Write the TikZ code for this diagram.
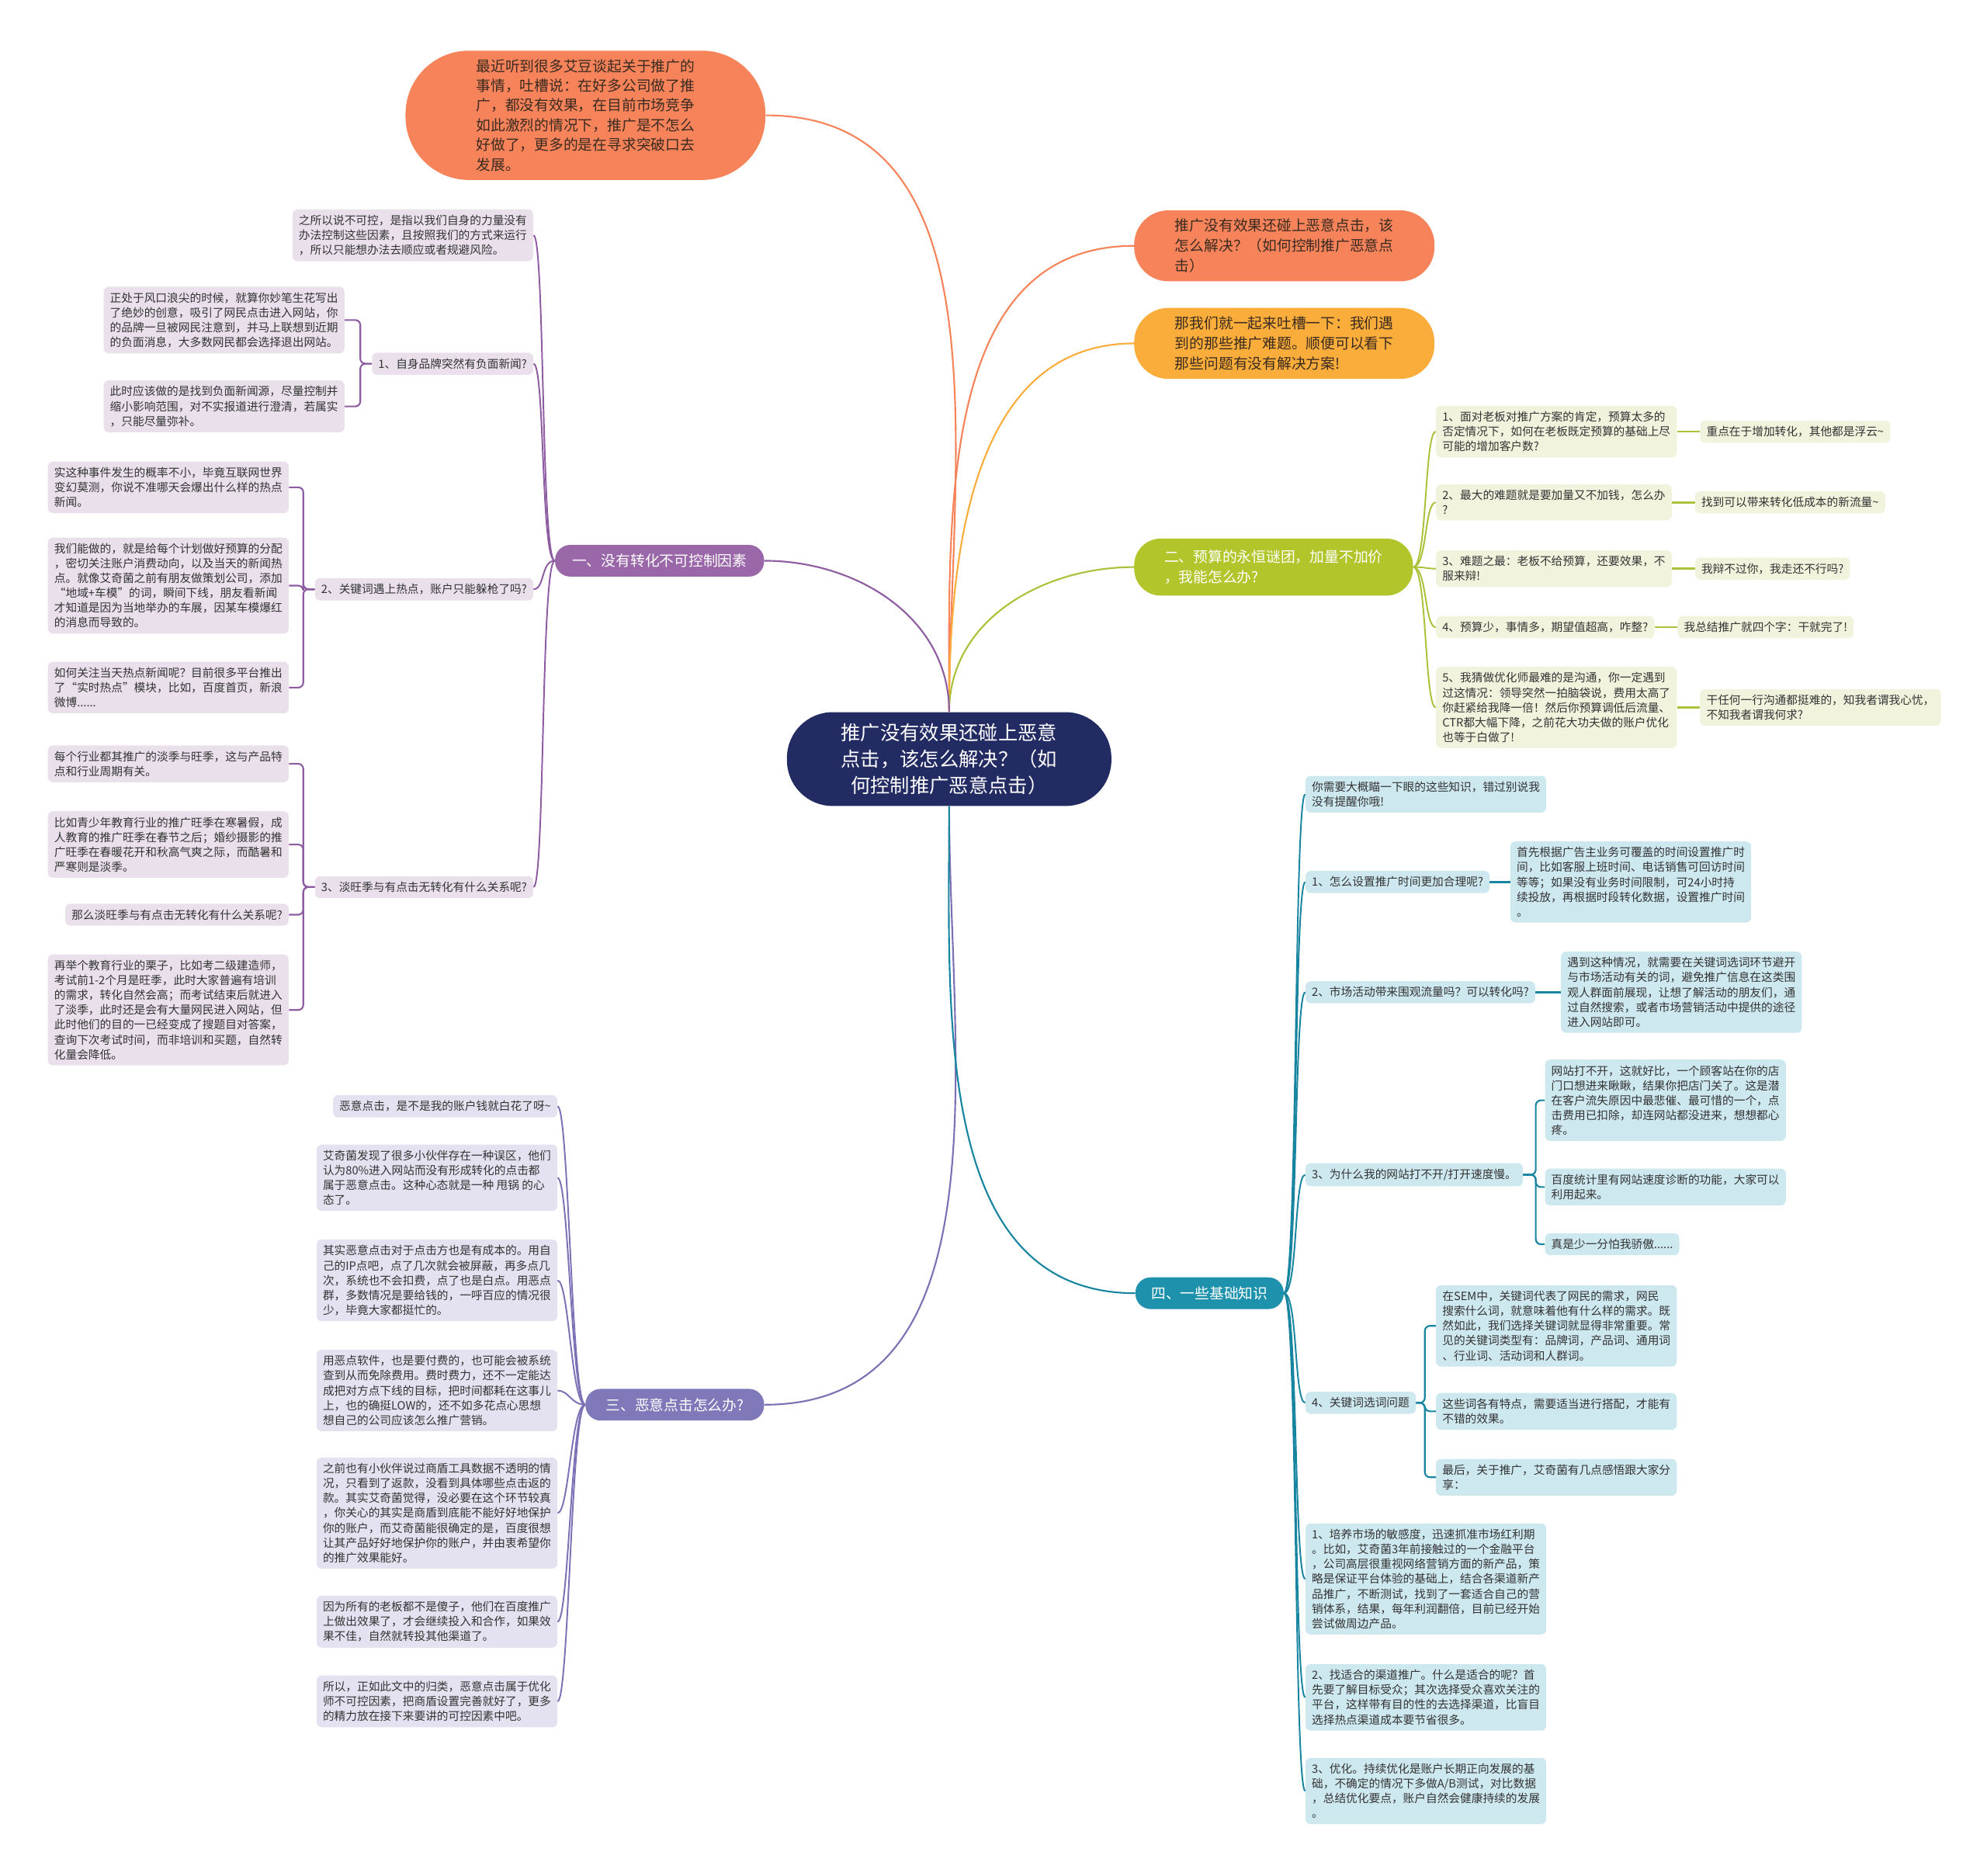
\documentclass[tikz,border=0pt]{standalone}
\usepackage{fontspec}
\setmainfont{Noto Sans CJK SC}
\usepackage{tikz}
\usetikzlibrary{positioning}
\definecolor{rootblue}{HTML}{232B63}
\definecolor{coral}{HTML}{F6835A}
\definecolor{amber}{HTML}{FAAD3A}
\definecolor{lime}{HTML}{B2C62C}
\definecolor{limeline}{HTML}{A9C23A}
\definecolor{limebg}{HTML}{F1F3DD}
\definecolor{plum}{HTML}{9A67A8}
\definecolor{plumline}{HTML}{8E5CA0}
\definecolor{plumbg}{HTML}{E9E0EC}
\definecolor{iris}{HTML}{7F79BA}
\definecolor{irisline}{HTML}{7A72B5}
\definecolor{irisbg}{HTML}{E4E2F0}
\definecolor{seablue}{HTML}{1E92AC}
\definecolor{sealine}{HTML}{17859F}
\definecolor{seabg}{HTML}{CEE8F0}
\definecolor{inktext}{HTML}{333333}
\definecolor{brownink}{HTML}{3A2A20}
\tikzset{
  rootnode/.style={rectangle, rounded corners=36pt, fill=rootblue, text=white, align=center, minimum width=256pt, minimum height=74pt, font=\fontsize{15.5}{21}\selectfont},
  introbox/.style={rectangle, rounded corners=50pt, fill=coral, text=brownink, align=left, minimum width=284pt, minimum height=102pt, font=\fontsize{11.5}{15.6}\selectfont},
  talkbox/.style={rectangle, rounded corners=27pt, text=brownink, align=left, minimum width=237pt, minimum height=56pt, font=\fontsize{11.5}{16}\selectfont},
  branch/.style={rectangle, rounded corners=12pt, text=white, align=left, minimum height=25pt, font=\fontsize{11.5}{16}\selectfont},
  topic/.style={rectangle, rounded corners=4pt, align=left, inner xsep=5pt, inner ysep=4.5pt, text=inktext, font=\fontsize{9}{11.7}\selectfont},
  mainline/.style={line width=1.3pt},
  spoke/.style={line width=1.2pt},
  twig/.style={line width=1.6pt},
  bracket/.style={line width=1.3pt, rounded corners=4pt},
  lspoke/.style={out=180, in=0, out distance=11pt, in distance=9pt},
  rspoke/.style={out=0, in=180, out distance=11pt, in distance=9pt},
}
\begin{document}
\begin{tikzpicture}[x=1pt, y=1pt]
\useasboundingbox (0,0) rectangle (1568,-1480);

\node[rootnode] (root) at (749,-599) {推广没有效果还碰上恶意\\点击，该怎么解决？（如\\何控制推广恶意点击）};
\node[introbox] (intro) at (462,-91) {最近听到很多艾豆谈起关于推广的\\事情，吐槽说：在好多公司做了推\\广，都没有效果，在目前市场竞争\\如此激烈的情况下，推广是不怎么\\好做了，更多的是在寻求突破口去\\发展。};
\node[talkbox, fill=coral] (puzzle) at (1013.5,-194) {推广没有效果还碰上恶意点击，该\\怎么解决？（如何控制推广恶意点\\击）};
\node[talkbox, fill=amber] (gripe) at (1013.5,-271) {那我们就一起来吐槽一下：我们遇\\到的那些推广难题。顺便可以看下\\那些问题有没有解决方案!};

\node[branch, fill=plum, minimum width=165pt] (uncontrol) at (520.5,-442.5) {一、没有转化不可控制因素};
\node[branch, fill=lime, minimum width=220pt, minimum height=45pt, rounded corners=21pt] (budget) at (1005,-447.5) {二、预算的永恒谜团，加量不加价\\，我能怎么办?};
\node[branch, fill=iris, minimum width=141pt] (fraud) at (532.5,-1108.5) {三、恶意点击怎么办?};
\node[branch, fill=seablue, minimum width=117pt] (basics) at (954.5,-1020.5) {四、一些基础知识};

\node[topic, fill=plumbg, anchor=north east] (why) at (421,-165) {之所以说不可控，是指以我们自身的力量没有\\办法控制这些因素，且按照我们的方式来运行\\，所以只能想办法去顺应或者规避风险。};
\node[topic, fill=plumbg, anchor=east] (brand) at (421,-287) {1、自身品牌突然有负面新闻?};
\node[topic, fill=plumbg, anchor=north east] (brand-a) at (272,-226) {正处于风口浪尖的时候，就算你妙笔生花写出\\了绝妙的创意，吸引了网民点击进入网站，你\\的品牌一旦被网民注意到，并马上联想到近期\\的负面消息，大多数网民都会选择退出网站。};
\node[topic, fill=plumbg, anchor=north east] (brand-b) at (272,-300) {此时应该做的是找到负面新闻源，尽量控制并\\缩小影响范围，对不实报道进行澄清，若属实\\，只能尽量弥补。};
\node[topic, fill=plumbg, anchor=east] (hot) at (421,-465) {2、关键词遇上热点，账户只能躲枪了吗?};
\node[topic, fill=plumbg, anchor=north east] (hot-a) at (228,-364) {实这种事件发生的概率不小，毕竟互联网世界\\变幻莫测，你说不准哪天会爆出什么样的热点\\新闻。};
\node[topic, fill=plumbg, anchor=north east] (hot-b) at (228,-424) {我们能做的，就是给每个计划做好预算的分配\\，密切关注账户消费动向，以及当天的新闻热\\点。就像艾奇菌之前有朋友做策划公司，添加\\“地域+车模”的词，瞬间下线，朋友看新闻\\才知道是因为当地举办的车展，因某车模爆红\\的消息而导致的。};
\node[topic, fill=plumbg, anchor=north east] (hot-c) at (228,-522) {如何关注当天热点新闻呢？目前很多平台推出\\了“实时热点”模块，比如，百度首页，新浪\\微博......};
\node[topic, fill=plumbg, anchor=east] (season) at (421,-700) {3、淡旺季与有点击无转化有什么关系呢?};
\node[topic, fill=plumbg, anchor=north east] (season-a) at (228,-588) {每个行业都其推广的淡季与旺季，这与产品特\\点和行业周期有关。};
\node[topic, fill=plumbg, anchor=north east] (season-b) at (228,-640) {比如青少年教育行业的推广旺季在寒暑假，成\\人教育的推广旺季在春节之后；婚纱摄影的推\\广旺季在春暖花开和秋高气爽之际，而酷暑和\\严寒则是淡季。};
\node[topic, fill=plumbg, anchor=north east] (season-c) at (228,-713) {那么淡旺季与有点击无转化有什么关系呢?};
\node[topic, fill=plumbg, anchor=north east] (season-d) at (228,-753) {再举个教育行业的栗子，比如考二级建造师，\\考试前1-2个月是旺季，此时大家普遍有培训\\的需求，转化自然会高；而考试结束后就进入\\了淡季，此时还是会有大量网民进入网站，但\\此时他们的目的一已经变成了搜题目对答案，\\查询下次考试时间，而非培训和买题，自然转\\化量会降低。};

\node[topic, fill=limebg, anchor=north west] (ask1) at (1133,-320) {1、面对老板对推广方案的肯定，预算太多的\\否定情况下，如何在老板既定预算的基础上尽\\可能的增加客户数?};
\node[topic, fill=limebg, right=18pt of ask1] (ans1) {重点在于增加转化，其他都是浮云\textasciitilde};
\node[topic, fill=limebg, anchor=north west] (ask2) at (1133,-382) {2、最大的难题就是要加量又不加钱，怎么办\\?};
\node[topic, fill=limebg, right=18pt of ask2] (ans2) {找到可以带来转化低成本的新流量\textasciitilde};
\node[topic, fill=limebg, anchor=north west] (ask3) at (1133,-434) {3、难题之最：老板不给预算，还要效果，不\\服来辩!};
\node[topic, fill=limebg, right=18pt of ask3] (ans3) {我辩不过你，我走还不行吗?};
\node[topic, fill=limebg, anchor=north west] (ask4) at (1133,-486) {4、预算少，事情多，期望值超高，咋整?};
\node[topic, fill=limebg, right=18pt of ask4] (ans4) {我总结推广就四个字：干就完了!};
\node[topic, fill=limebg, anchor=north west] (ask5) at (1133,-526) {5、我猜做优化师最难的是沟通，你一定遇到\\过这情况：领导突然一拍脑袋说，费用太高了\\你赶紧给我降一倍！然后你预算调低后流量、\\CTR都大幅下降，之前花大功夫做的账户优化\\也等于白做了!};
\node[topic, fill=limebg, right=18pt of ask5] (ans5) {干任何一行沟通都挺难的，知我者谓我心忧，\\不知我者谓我何求?};

\node[topic, fill=irisbg, anchor=north east] (fr1) at (440,-864) {恶意点击，是不是我的账户钱就白花了呀\textasciitilde};
\node[topic, fill=irisbg, anchor=north east] (fr2) at (440,-903) {艾奇菌发现了很多小伙伴存在一种误区，他们\\认为80\%进入网站而没有形成转化的点击都\\属于恶意点击。这种心态就是一种 甩锅 的心\\态了。};
\node[topic, fill=irisbg, anchor=north east] (fr3) at (440,-978) {其实恶意点击对于点击方也是有成本的。用自\\己的IP点吧，点了几次就会被屏蔽，再多点几\\次，系统也不会扣费，点了也是白点。用恶点\\群，多数情况是要给钱的，一呼百应的情况很\\少，毕竟大家都挺忙的。};
\node[topic, fill=irisbg, anchor=north east] (fr4) at (440,-1065) {用恶点软件，也是要付费的，也可能会被系统\\查到从而免除费用。费时费力，还不一定能达\\成把对方点下线的目标，把时间都耗在这事儿\\上，也的确挺LOW的，还不如多花点心思想\\想自己的公司应该怎么推广营销。};
\node[topic, fill=irisbg, anchor=north east] (fr5) at (440,-1150) {之前也有小伙伴说过商盾工具数据不透明的情\\况，只看到了返款，没看到具体哪些点击返的\\款。其实艾奇菌觉得，没必要在这个环节较真\\，你关心的其实是商盾到底能不能好好地保护\\你的账户，而艾奇菌能很确定的是，百度很想\\让其产品好好地保护你的账户，并由衷希望你\\的推广效果能好。};
\node[topic, fill=irisbg, anchor=north east] (fr6) at (440,-1259) {因为所有的老板都不是傻子，他们在百度推广\\上做出效果了，才会继续投入和合作，如果效\\果不佳，自然就转投其他渠道了。};
\node[topic, fill=irisbg, anchor=north east] (fr7) at (440,-1322) {所以，正如此文中的归类，恶意点击属于优化\\师不可控因素，把商盾设置完善就好了，更多\\的精力放在接下来要讲的可控因素中吧。};

\node[topic, fill=seabg, anchor=north west] (tip0) at (1030,-612) {你需要大概瞄一下眼的这些知识，错过别说我\\没有提醒你哦!};
\node[topic, fill=seabg, anchor=west] (tip1) at (1030,-696) {1、怎么设置推广时间更加合理呢?};
\node[topic, fill=seabg, right=16pt of tip1] (tip1a) {首先根据广告主业务可覆盖的时间设置推广时\\间，比如客服上班时间、电话销售可回访时间\\等等；如果没有业务时间限制，可24小时持\\续投放，再根据时段转化数据，设置推广时间\\。};
\node[topic, fill=seabg, anchor=west] (tip2) at (1030,-783) {2、市场活动带来围观流量吗？可以转化吗?};
\node[topic, fill=seabg, right=20pt of tip2] (tip2a) {遇到这种情况，就需要在关键词选词环节避开\\与市场活动有关的词，避免推广信息在这类围\\观人群面前展现，让想了解活动的朋友们，通\\过自然搜索，或者市场营销活动中提供的途径\\进入网站即可。};
\node[topic, fill=seabg, anchor=west] (tip3) at (1030,-927) {3、为什么我的网站打不开/打开速度慢。};
\node[topic, fill=seabg, anchor=north west] (tip3a) at (1219,-836) {网站打不开，这就好比，一个顾客站在你的店\\门口想进来瞅瞅，结果你把店门关了。这是潜\\在客户流失原因中最悲催、最可惜的一个，点\\击费用已扣除，却连网站都没进来，想想都心\\疼。};
\node[topic, fill=seabg, anchor=north west] (tip3b) at (1219,-922) {百度统计里有网站速度诊断的功能，大家可以\\利用起来。};
\node[topic, fill=seabg, anchor=north west] (tip3c) at (1219,-973) {真是少一分怕我骄傲......};
\node[topic, fill=seabg, anchor=west] (tip4) at (1030,-1107) {4、关键词选词问题};
\node[topic, fill=seabg, anchor=north west] (tip4a) at (1133,-1014) {在SEM中，关键词代表了网民的需求，网民\\搜索什么词，就意味着他有什么样的需求。既\\然如此，我们选择关键词就显得非常重要。常\\见的关键词类型有：品牌词，产品词、通用词\\、行业词、活动词和人群词。};
\node[topic, fill=seabg, anchor=north west] (tip4b) at (1133,-1099) {这些词各有特点，需要适当进行搭配，才能有\\不错的效果。};
\node[topic, fill=seabg, anchor=north west] (tip4c) at (1133,-1151) {最后，关于推广，艾奇菌有几点感悟跟大家分\\享：};
\node[topic, fill=seabg, anchor=north west] (tip5) at (1030,-1202) {1、培养市场的敏感度，迅速抓准市场红利期\\。比如，艾奇菌3年前接触过的一个金融平台\\，公司高层很重视网络营销方面的新产品，策\\略是保证平台体验的基础上，结合各渠道新产\\品推广，不断测试，找到了一套适合自己的营\\销体系，结果，每年利润翻倍，目前已经开始\\尝试做周边产品。};
\node[topic, fill=seabg, anchor=north west] (tip6) at (1030,-1313) {2、找适合的渠道推广。什么是适合的呢？首\\先要了解目标受众；其次选择受众喜欢关注的\\平台，这样带有目的性的去选择渠道，比盲目\\选择热点渠道成本要节省很多。};
\node[topic, fill=seabg, anchor=north west] (tip7) at (1030,-1387) {3、优化。持续优化是账户长期正向发展的基\\础，不确定的情况下多做A/B测试，对比数据\\，总结优化要点，账户自然会健康持续的发展\\。};

\draw[mainline, coral] (root.north) to[out=90, in=0] (intro.east);
\draw[mainline, coral] (root.north) to[out=90, in=180] (puzzle.west);
\draw[mainline, amber] (root.north) to[out=90, in=180] (gripe.west);
\draw[mainline, limeline] (root.north) to[out=90, in=180] (budget.west);
\draw[mainline, plumline] (root.north) to[out=90, in=0] (uncontrol.east);
\draw[mainline, irisline] (root.south) to[out=-90, in=0] (fraud.east);
\draw[mainline, sealine] (root.south) to[out=-90, in=180] (basics.west);

\draw[spoke, plumline] (uncontrol.west) to[lspoke] (why.east);
\draw[spoke, plumline] (uncontrol.west) to[lspoke] (brand.east);
\draw[spoke, plumline] (uncontrol.west) to[lspoke] (hot.east);
\draw[spoke, plumline] (uncontrol.west) to[lspoke] (season.east);
\draw[bracket, plumline] (brand.west) -- ++(-9,0) |- (brand-a.east);
\draw[bracket, plumline] (brand.west) -- ++(-9,0) |- (brand-b.east);
\draw[bracket, plumline] (hot.west) -- ++(-9,0) |- (hot-a.east);
\draw[bracket, plumline] (hot.west) -- ++(-9,0) |- (hot-b.east);
\draw[bracket, plumline] (hot.west) -- ++(-9,0) |- (hot-c.east);
\draw[bracket, plumline] (season.west) -- ++(-9,0) |- (season-a.east);
\draw[bracket, plumline] (season.west) -- ++(-9,0) |- (season-b.east);
\draw[bracket, plumline] (season.west) -- ++(-9,0) |- (season-c.east);
\draw[bracket, plumline] (season.west) -- ++(-9,0) |- (season-d.east);

\draw[spoke, limeline] (budget.east) to[rspoke] (ask1.west);
\draw[spoke, limeline] (budget.east) to[rspoke] (ask2.west);
\draw[spoke, limeline] (budget.east) to[rspoke] (ask3.west);
\draw[spoke, limeline] (budget.east) to[rspoke] (ask4.west);
\draw[spoke, limeline] (budget.east) to[rspoke] (ask5.west);
\draw[twig, limeline] (ask1.east) -- (ans1.west);
\draw[twig, limeline] (ask2.east) -- (ans2.west);
\draw[twig, limeline] (ask3.east) -- (ans3.west);
\draw[twig, limeline] (ask4.east) -- (ans4.west);
\draw[twig, limeline] (ask5.east) -- (ans5.west);

\draw[spoke, irisline] (fraud.west) to[lspoke] (fr1.east);
\draw[spoke, irisline] (fraud.west) to[lspoke] (fr2.east);
\draw[spoke, irisline] (fraud.west) to[lspoke] (fr3.east);
\draw[spoke, irisline] (fraud.west) to[lspoke] (fr4.east);
\draw[spoke, irisline] (fraud.west) to[lspoke] (fr5.east);
\draw[spoke, irisline] (fraud.west) to[lspoke] (fr6.east);
\draw[spoke, irisline] (fraud.west) to[lspoke] (fr7.east);

\draw[spoke, sealine] (basics.east) to[rspoke] (tip0.west);
\draw[spoke, sealine] (basics.east) to[rspoke] (tip1.west);
\draw[spoke, sealine] (basics.east) to[rspoke] (tip2.west);
\draw[spoke, sealine] (basics.east) to[rspoke] (tip3.west);
\draw[spoke, sealine] (basics.east) to[rspoke] (tip4.west);
\draw[spoke, sealine] (basics.east) to[rspoke] (tip5.west);
\draw[spoke, sealine] (basics.east) to[rspoke] (tip6.west);
\draw[spoke, sealine] (basics.east) to[rspoke] (tip7.west);
\draw[twig, sealine] (tip1.east) -- (tip1a.west);
\draw[twig, sealine] (tip2.east) -- (tip2a.west);
\draw[bracket, sealine] (tip3.east) -- ++(10,0) |- (tip3a.west);
\draw[bracket, sealine] (tip3.east) -- ++(10,0) |- (tip3b.west);
\draw[bracket, sealine] (tip3.east) -- ++(10,0) |- (tip3c.west);
\draw[bracket, sealine] (tip4.east) -- ++(7,0) |- (tip4a.west);
\draw[bracket, sealine] (tip4.east) -- ++(7,0) |- (tip4b.west);
\draw[bracket, sealine] (tip4.east) -- ++(7,0) |- (tip4c.west);
\end{tikzpicture}
\end{document}
